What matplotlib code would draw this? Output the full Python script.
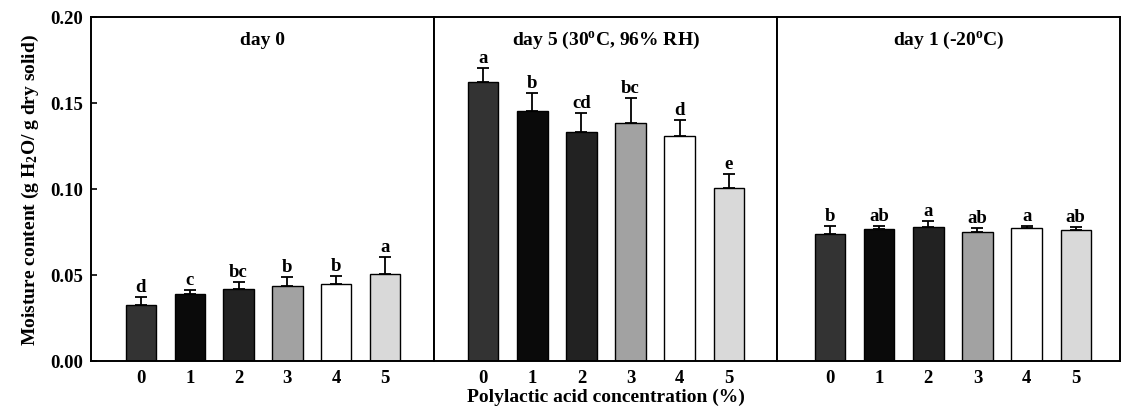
import matplotlib
matplotlib.use("Agg")
import matplotlib.pyplot as plt
import numpy as np

plt.rcParams['font.family'] = ['Liberation Serif', 'DejaVu Serif']
plt.rcParams['font.weight'] = 'bold'
plt.rcParams['mathtext.fontset'] = 'custom'
plt.rcParams['mathtext.rm'] = 'Liberation Serif:bold'
plt.rcParams['mathtext.it'] = 'Liberation Serif:bold'
plt.rcParams['mathtext.bf'] = 'Liberation Serif:bold'

categories = ['0', '1', '2', '3', '4', '5']
panel_titles = ['day 0', r'day 5 (30$^{\mathrm{o}}$C, 96% RH)', r'day 1 (-20$^{\mathrm{o}}$C)']

day0_vals = [0.0326, 0.0388, 0.0420, 0.0438, 0.0449, 0.0504]
day0_errs = [0.0044, 0.0027, 0.0037, 0.0050, 0.0043, 0.0102]
day0_letters = ['d', 'c', 'bc', 'b', 'b', 'a']

day5_vals = [0.1620, 0.1455, 0.1330, 0.1384, 0.1310, 0.1006]
day5_errs = [0.0082, 0.0103, 0.0110, 0.0143, 0.0090, 0.0083]
day5_letters = ['a', 'b', 'cd', 'bc', 'd', 'e']

day1_vals = [0.0738, 0.0767, 0.0777, 0.0752, 0.0771, 0.0760]
day1_errs = [0.0049, 0.0018, 0.0039, 0.0019, 0.0016, 0.0017]
day1_letters = ['b', 'ab', 'a', 'ab', 'a', 'ab']

bar_colors = ['#333333', '#0a0a0a', '#222222', '#a2a2a2', '#ffffff', '#d9d9d9']

yticks = [0.00, 0.05, 0.10, 0.15, 0.20]
ytick_labels = ['0.00', '0.05', '0.10', '0.15', '0.20']

fig = plt.figure(figsize=(11.23, 4.10), dpi=100)
left, right = 91 / 1123, 1120 / 1123
bottom, top = 1 - 362 / 410, 1 - 18 / 410
gs = fig.add_gridspec(1, 3, left=left, right=right, bottom=bottom, top=top, wspace=0)

datasets = [(day0_vals, day0_errs, day0_letters),
            (day5_vals, day5_errs, day5_letters),
            (day1_vals, day1_errs, day1_letters)]
xlims = [(-1.02, 6.0), (-1.0, 5.98), (-1.08, 5.9)]

x = np.arange(len(categories))
for i, (vals, errs, letters) in enumerate(datasets):
    ax = fig.add_subplot(gs[0, i])
    ax.bar(x, vals, width=0.62, color=bar_colors, edgecolor='black', linewidth=1.0, zorder=2)
    ax.errorbar(x, vals, yerr=[np.zeros(len(vals)), errs], fmt='none', ecolor='black',
                elinewidth=1.3, capsize=4.5, capthick=1.3, zorder=3)
    for xi, v, e, lab in zip(x, vals, errs, letters):
        ax.text(xi, v + e + 0.0012, lab, ha='center', va='bottom', fontsize=13.5, fontweight='bold')
    ax.set_ylim(0, 0.20)
    ax.set_xlim(*xlims[i])
    ax.set_xticks(x)
    ax.set_xticklabels(categories, fontsize=13.5, fontweight='bold')
    ax.tick_params(axis='x', length=0, pad=6)
    ax.text(0.5, 0.935, panel_titles[i], transform=ax.transAxes, ha='center', va='center',
            fontsize=14, fontweight='bold')
    for sp in ax.spines.values():
        sp.set_linewidth(1.4)
    if i == 0:
        ax.set_yticks(yticks)
        ax.set_yticklabels(ytick_labels, fontsize=13.5, fontweight='bold')
        ax.tick_params(axis='y', direction='in', length=4, width=1.2, pad=6)
        ax.set_ylabel(r'Moisture content (g H$_2$O/ g dry solid)', fontsize=14,
                      fontweight='bold', labelpad=6)
    else:
        ax.set_yticks([])
    if i == 1:
        ax.set_xlabel('Polylactic acid concentration (%)', fontsize=14, fontweight='bold', labelpad=1)

fig.savefig('out.png', dpi=100)
